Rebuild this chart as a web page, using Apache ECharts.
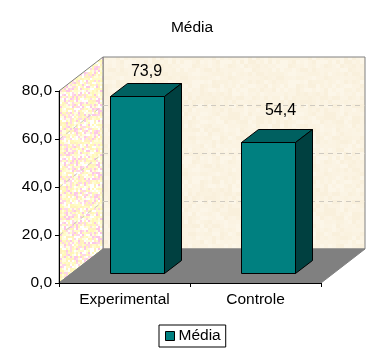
<!DOCTYPE html>
<html>
<head>
    <meta charset="utf-8">
    <script src="https://cdn.jsdelivr.net/npm/echarts@6/dist/echarts.min.js"></script>
    <style>
        html, body { margin: 0; padding: 0; background: #fff; }
        #container { width: 385px; height: 357px; }
    </style>
</head>
<body>
<div id="container"></div>
<script>
    var categories = ['Experimental', 'Controle'];
    var seriesName = 'Média';
    var values = [73.9, 54.4];
    var yTicks = [0, 20, 40, 60, 80];

    // depth of the fake 3d box
    var wallDx = 44, wallDy = 34;
    var barDx = 17, barDy = 13;
    var barShiftX = 12, barShiftY = 10;
    var barWidth = 54;
    // label nudges per bar, the original doesn't sit them the same way
    var labelOffsetX = [9, 12], labelOffsetY = [25, 32];

    function comma(v) {
        return v.toFixed(1).replace('.', ',');
    }

    // texture for the walls, fixed sequence so every run looks the same
    function makeTexture(size, cell, colors) {
        var c = document.createElement('canvas');
        c.width = c.height = size;
        var ctx = c.getContext('2d');
        var s = 12345;
        for (var y = 0; y < size; y += cell) {
            for (var x = 0; x < size; x += cell) {
                s = (s * 1103515245 + 12345) & 0x7fffffff;
                ctx.fillStyle = colors[(s >> 8) % colors.length];
                ctx.fillRect(x, y, cell, cell);
            }
        }
        return c;
    }
    var backTexture = makeTexture(96, 4, ['#fbf4e4', '#faf2df', '#fcf6e8', '#f9f0dc', '#fbf3e2']);
    var sideTexture = makeTexture(64, 2, ['#fffbc8', '#fff8b8', '#ffd8e8', '#ffffff', '#fcc8e8', '#ffefc0', '#fffde0']);

    function renderWalls(params, api) {
        var g = params.coordSys;
        var x0 = g.x, x1 = g.x + g.width, yTop = g.y, yBot = g.y + g.height;
        var children = [];
        children.push({
            type: 'polygon',
            shape: { points: [[x0 + wallDx, yTop - wallDy], [x1 + wallDx, yTop - wallDy], [x1 + wallDx, yBot - wallDy], [x0 + wallDx, yBot - wallDy]] },
            style: { fill: { image: backTexture, repeat: 'repeat' }, stroke: '#808080', lineWidth: 1 }
        });
        children.push({
            type: 'polygon',
            shape: { points: [[x0, yTop], [x0 + wallDx, yTop - wallDy], [x0 + wallDx, yBot - wallDy], [x0, yBot]] },
            style: { fill: { image: sideTexture, repeat: 'repeat' }, stroke: '#808080', lineWidth: 1 }
        });
        for (var i = 1; i < yTicks.length - 1; i++) {
            var y = Math.round(api.coord([0, yTicks[i]])[1]) + 0.5;
            children.push({
                type: 'line',
                shape: { x1: x0 + wallDx, y1: y - wallDy, x2: x1 + wallDx, y2: y - wallDy },
                style: { stroke: '#cfcac0', lineWidth: 1, lineDash: [5, 4] }
            });
            children.push({
                type: 'line',
                shape: { x1: x0, y1: y, x2: x0 + wallDx, y2: y - wallDy },
                style: { stroke: '#cfcac0', lineWidth: 1, lineDash: [5, 4] }
            });
        }
        children.push({
            type: 'polygon',
            shape: { points: [[x0, yBot], [x0 + wallDx, yBot - wallDy], [x1 + wallDx, yBot - wallDy], [x1, yBot]] },
            style: { fill: '#808080', stroke: '#808080', lineWidth: 1 }
        });
        return { type: 'group', children: children };
    }

    function renderBar(params, api) {
        var i = api.value(0);
        var v = api.value(1);
        var base = api.coord([i, 0]);
        var top = api.coord([i, v]);
        var l = Math.round(base[0] + barShiftX - barWidth / 2) + 0.5;
        var r = l + barWidth;
        var b = Math.round(base[1] - barShiftY) + 0.5;
        var t = Math.round(top[1] - barShiftY) + 0.5;
        var line = { stroke: '#000', lineWidth: 1, lineJoin: 'miter' };
        return {
            type: 'group',
            children: [
                { type: 'polygon', shape: { points: [[l, t], [r, t], [r, b], [l, b]] }, style: Object.assign({ fill: '#008080' }, line) },
                { type: 'polygon', shape: { points: [[l, t], [l + barDx, t - barDy], [r + barDx, t - barDy], [r, t]] }, style: Object.assign({ fill: '#006060' }, line) },
                { type: 'polygon', shape: { points: [[r, t], [r + barDx, t - barDy], [r + barDx, b - barDy], [r, b]] }, style: Object.assign({ fill: '#004040' }, line) },
                {
                    type: 'text',
                    style: {
                        x: (l + r) / 2 + labelOffsetX[i],
                        y: t - labelOffsetY[i],
                        text: comma(v),
                        align: 'center',
                        verticalAlign: 'middle',
                        fill: '#000',
                        font: '16px "Liberation Sans"'
                    }
                }
            ]
        };
    }

    var myChart = echarts.init(document.getElementById('container'), null, { renderer: 'canvas' });
    var barData = values.map(function (v, i) { return [i, v]; });

    myChart.setOption({
        animation: false,
        textStyle: { fontFamily: '"Liberation Sans"' },
        title: {
            text: seriesName,
            left: 187,
            top: 15,
            textAlign: 'center',
            textStyle: { fontSize: 15.5, fontWeight: 'normal', color: '#000', fontFamily: '"Liberation Sans"' }
        },
        legend: {
            data: [{ name: seriesName, icon: 'rect', itemStyle: { color: '#008080', borderColor: '#000', borderWidth: 1 } }],
            left: 159,
            top: 325,
            padding: [3, 5, 3, 6],
            itemWidth: 9,
            itemHeight: 9,
            itemGap: 0,
            selectedMode: false,
            backgroundColor: '#fff',
            borderColor: '#000',
            borderWidth: 1,
            textStyle: { fontSize: 15.5, color: '#000', padding: [0, 0, 0, -1] }
        },
        grid: { left: 59, right: 64, top: 91, bottom: 74 },
        xAxis: {
            type: 'category',
            data: categories,
            z: 10,
            axisLine: { lineStyle: { color: '#000', width: 1 } },
            axisTick: { show: true, length: 4, lineStyle: { color: '#000' } },
            axisLabel: { color: '#000', fontSize: 15.5, margin: 9 }
        },
        yAxis: {
            type: 'value',
            min: 0,
            max: 80,
            interval: 20,
            z: 10,
            axisLine: { show: true, lineStyle: { color: '#000', width: 1 } },
            axisTick: { show: true, length: 4, lineStyle: { color: '#000' } },
            splitLine: { show: false },
            axisLabel: { color: '#000', fontSize: 15.5, margin: 7, formatter: comma }
        },
        series: [
            { type: 'custom', name: 'walls', data: [[0, 0]], renderItem: renderWalls, silent: true, z: 1, clip: false },
            {
                type: 'custom',
                name: seriesName,
                data: barData,
                renderItem: renderBar,
                encode: { x: 0, y: 1 },
                itemStyle: { color: '#008080' },
                z: 3,
                clip: false
            }
        ]
    });
</script>
</body>
</html>
